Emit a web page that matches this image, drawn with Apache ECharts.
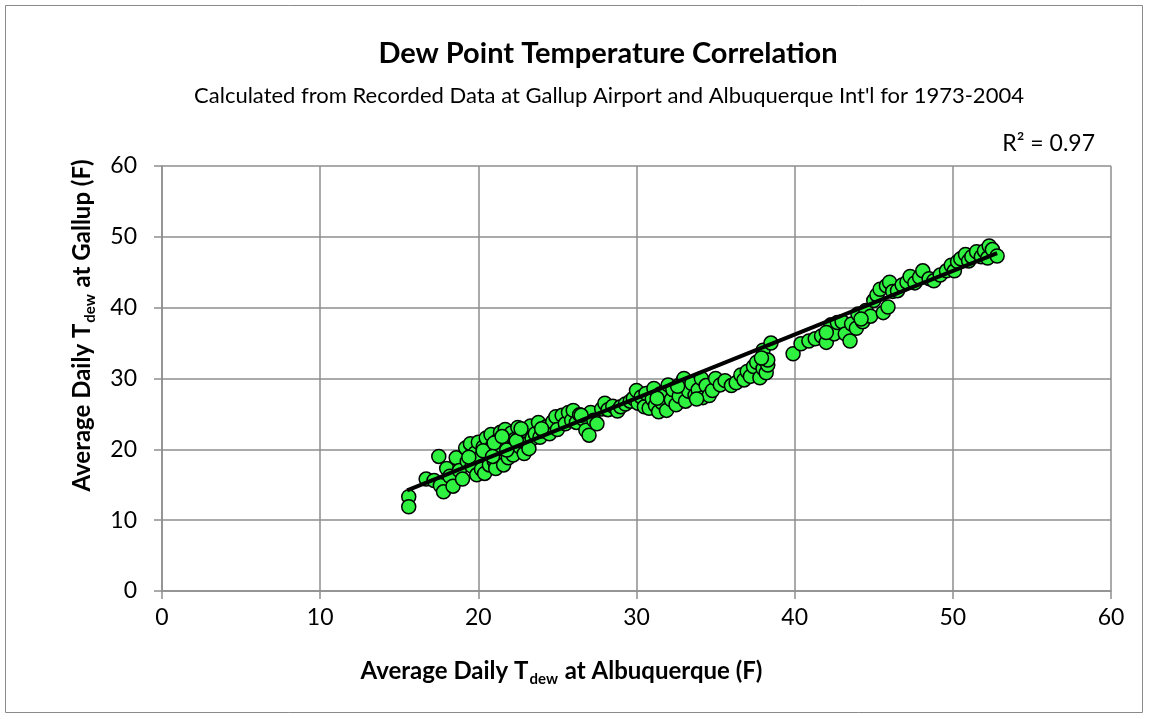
<!DOCTYPE html>
<html>
<head>
<meta charset="utf-8">
<title>Dew Point Temperature Correlation</title>
<script src="https://cdn.jsdelivr.net/npm/echarts@6/dist/echarts.min.js"></script>
<style>
  html, body { margin: 0; padding: 0; background: #fff; }
  #chart { width: 1149px; height: 719px; }
</style>
</head>
<body>
<div id="chart"></div>
<script>
// Albuquerque (x) vs Gallup (y) daily average dew point
var abqTdew = [
  15.6, 15.6, 16.7, 17.2, 17.5, 17.6, 17.8, 18.0, 18.2, 18.4, 18.6, 18.8, 19.0, 19.2, 19.3, 19.5, 19.6, 19.8, 19.9, 20.0,
  20.1, 20.2, 20.3, 20.4, 20.5, 20.6, 20.7, 20.8, 20.9, 21.0, 21.1, 21.2, 21.3, 21.4, 21.5, 21.6, 21.7, 21.8, 21.9, 22.0,
  22.1, 22.2, 22.3, 22.5, 22.6, 22.8, 22.9, 23.0, 23.1, 23.3, 23.4, 23.6, 23.8, 23.9, 24.1, 24.3, 24.5, 24.7, 24.9, 25.0,
  25.3, 25.5, 25.7, 25.9, 26.0, 26.2, 26.4, 26.6, 26.8, 27.0, 27.1, 27.3, 27.5, 27.8, 28.0, 28.2, 28.5, 28.8, 29.0, 29.3,
  29.6, 29.8, 30.0, 30.1,
  30.3, 30.5, 30.6, 30.8, 31.0, 31.1, 31.2, 31.4, 31.5, 31.6, 31.8, 31.9, 32.0, 32.2, 32.3, 32.5, 32.7, 32.9, 33.0, 33.1,
  33.3, 33.5, 33.7, 33.9, 34.1, 34.2, 34.4, 34.6, 34.8, 35.0,
  35.3, 35.6, 36.0, 36.3, 36.6, 36.8, 37.0, 37.2, 37.4, 37.6, 37.8, 38.0, 38.0, 38.1, 38.2, 38.3, 38.5, 38.3,
  39.9, 40.4, 40.9, 41.3, 41.7, 42.0, 42.3, 42.5, 42.7, 43.0, 43.2, 43.5, 43.6, 43.9, 44.0, 44.3, 44.5, 44.8,
  45.0, 45.2, 45.4, 45.6, 45.8, 45.9, 46.0, 46.2, 46.5, 46.8, 47.1, 47.3, 47.6, 47.9, 48.1, 48.5, 48.8, 49.2, 49.6, 49.9,
  50.1, 50.3, 50.5, 50.8, 51.0, 51.2, 51.5, 51.8, 52.0, 52.2, 52.3, 52.5, 52.8,
  19.4, 20.3, 21.0, 21.8, 22.4, 23.2, 20.9, 21.5, 22.7, 24.0, 26.5, 31.3, 32.6, 33.8, 37.9, 42.0, 44.2
];
var gallupTdew = [
  13.3, 11.9, 15.8, 15.6, 19.0, 14.9, 14.0, 17.3, 16.2, 14.8, 18.8, 17.0, 15.8, 20.2, 18.3, 20.8, 17.6, 19.5, 16.4, 21.0,
  18.8, 17.2, 20.3, 16.6, 21.6, 19.6, 17.8, 22.1, 20.5, 18.4, 17.3, 21.2, 19.3, 22.4, 20.1, 17.8, 22.8, 21.0, 18.8, 20.0,
  22.3, 19.2, 21.4, 23.1, 20.4, 21.9, 19.4, 22.6, 20.8, 23.3, 21.5, 22.2, 23.8, 21.7, 22.6, 23.2, 22.2, 23.9, 24.6, 22.8,
  24.8, 23.6, 25.2, 24.1, 25.5, 23.8, 24.9, 24.3, 22.7, 22.0, 25.2, 24.1, 23.6, 25.7, 26.5, 25.6, 26.1, 25.4, 26.0, 26.4,
  26.8, 27.2, 28.3, 26.5,
  27.4, 26.0, 27.9, 25.8, 27.1, 28.6, 26.2, 25.3, 27.8, 26.6, 28.2, 25.5, 29.1, 27.0, 28.4, 26.3, 27.5, 29.5, 30.0, 26.8,
  28.2, 29.3, 27.6, 28.4, 30.0, 27.3, 29.0, 27.6, 28.3, 30.0,
  29.1, 29.7, 29.0, 29.4, 30.5, 29.8, 31.0, 30.3, 31.7, 32.3, 30.1, 34.0, 31.4, 32.6, 30.8, 31.9, 35.0, 32.6,
  33.5, 34.9, 35.3, 35.6, 36.0, 35.1, 37.6, 36.3, 37.9, 38.0, 36.3, 35.3, 37.7, 37.1, 39.1, 38.0, 39.6, 38.8,
  41.0, 41.8, 42.6, 39.3, 43.1, 40.1, 43.6, 42.3, 42.4, 43.2, 43.6, 44.4, 43.5, 44.3, 45.2, 44.1, 43.8, 44.6, 45.2, 46.0,
  45.2, 46.5, 46.9, 47.5, 46.6, 47.2, 47.9, 47.2, 48.0, 47.0, 48.7, 48.2, 47.3,
  18.9, 19.8, 20.9, 19.9, 21.2, 20.1, 19.0, 21.8, 22.9, 22.9, 24.8, 27.2, 28.9, 27.1, 32.9, 36.5, 38.4
];
// linear trendline end points
var trendX = [15.5, 52.8];
var trendY = [14.2, 47.7];
var rSquared = '0.97';

var points = abqTdew.map(function (x, i) { return [x, gallupTdew[i]]; });
var trend = trendX.map(function (x, i) { return [x, trendY[i]]; });

var font = 'Lato, "Open Sans", sans-serif';
var gridColor = '#8e8e8e';

var nameRich = {
  b: { fontSize: 24, fontWeight: 'bold', fontFamily: font, color: '#000', lineHeight: 32, verticalAlign: 'middle' },
  s: { fontSize: 15, fontWeight: 'bold', fontFamily: font, color: '#000', lineHeight: 32, verticalAlign: 'bottom', padding: [13, 1, 0, 1] }
};

var chart = echarts.init(document.getElementById('chart'));
chart.setOption({
  backgroundColor: '#fff',
  animation: false,
  textStyle: { fontFamily: font, color: '#000' },
  title: [{
    text: 'Dew Point Temperature Correlation',
    left: 603,
    top: 34,
    textAlign: 'center',
    textStyle: { fontSize: 29, fontWeight: 'bold', color: '#000', fontFamily: font }
  }, {
    text: 'Calculated from Recorded Data at Gallup Airport and Albuquerque Int\'l for 1973-2004',
    left: 604,
    top: 80,
    textAlign: 'center',
    textStyle: { fontSize: 22, fontWeight: 'normal', color: '#000', fontFamily: font }
  }, {
    text: 'R² = ' + rSquared,
    right: 49,
    top: 127,
    textStyle: { fontSize: 23, fontWeight: 'normal', color: '#000', fontFamily: font }
  }],
  graphic: [{
    type: 'rect',
    shape: { x: 5.5, y: 5.5, width: 1137, height: 707 },
    style: { fill: 'none', stroke: '#8a8a8a', lineWidth: 1 },
    silent: true
  }],
  grid: { left: 162, right: 38, top: 166, bottom: 128 },
  xAxis: {
    type: 'value',
    min: 0, max: 60, interval: 10,
    name: '{b|Average Daily T}{s|dew}{b| at Albuquerque (F)}',
    nameLocation: 'middle',
    nameGap: 64,
    nameTextStyle: { rich: nameRich, padding: [0, 150, 0, 0] },
    axisLine: { lineStyle: { color: gridColor, width: 1.5 } },
    axisTick: { length: 8, lineStyle: { color: gridColor, width: 1.5 } },
    axisLabel: { fontSize: 23, color: '#000', margin: 15, fontFamily: font },
    splitLine: { lineStyle: { color: gridColor, width: 1.5 } }
  },
  yAxis: {
    type: 'value',
    min: 0, max: 60, interval: 10,
    name: '{b|Average Daily T}{s|dew}{b| at Gallup (F)}',
    nameLocation: 'middle',
    nameGap: 64,
    nameTextStyle: { rich: nameRich, padding: [0, 0, 0, 106] },
    axisLine: { show: true, lineStyle: { color: gridColor, width: 1.5 } },
    axisTick: { show: true, length: 8, lineStyle: { color: gridColor, width: 1.5 } },
    axisLabel: { fontSize: 23, color: '#000', margin: 25, fontFamily: font },
    splitLine: { lineStyle: { color: gridColor, width: 1.5 } }
  },
  series: [{
    type: 'scatter',
    data: points,
    symbol: 'circle',
    symbolSize: 14,
    itemStyle: { color: '#2ef23f', borderColor: '#000', borderWidth: 1.5, opacity: 1 },
    z: 2
  }, {
    type: 'line',
    data: trend,
    showSymbol: false,
    symbol: 'none',
    lineStyle: { color: '#000', width: 4 },
    z: 3
  }]
});
</script>
</body>
</html>
